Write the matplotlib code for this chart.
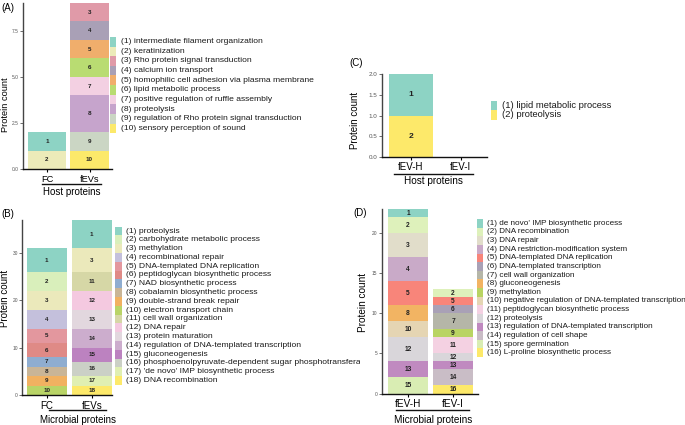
import matplotlib
matplotlib.use("Agg")
import matplotlib.pyplot as plt
from matplotlib.patches import Rectangle
from matplotlib.lines import Line2D
from matplotlib.transforms import Bbox, TransformedBbox

plt.rcParams['font.family'] = ['Liberation Sans', 'DejaVu Sans']

W, H = 685, 425

# ---- data -------------------------------------------------------------
a_cats = ['FC', 'fEVs']
a_terms = ['intermediate filament organization', 'keratinization',
           'Rho protein signal transduction', 'calcium ion transport',
           'homophilic cell adhesion via plasma membrane', 'lipid metabolic process',
           'positive regulation of ruffle assembly', 'proteolysis',
           'regulation of Rho protein signal transduction', 'sensory perception of sound']
a_fc_ids = [2, 1]
a_fc_counts = [1, 1]
a_fev_ids = [10, 9, 8, 7, 6, 5, 4, 3]
a_fev_counts = [1, 1, 2, 1, 1, 1, 1, 1]
a_colors = ['#8dd3c4', '#ecebb9', '#e09aa8', '#a9a0b6', '#f0ae6c',
            '#b9dc72', '#f3d0e2', '#c6a4cc', '#cbd6c4', '#fce96a']

b_cats = ['FC', 'fEVs']
b_terms = ['proteolysis', 'carbohydrate metabolic process', 'methylation',
           'recombinational repair', 'DNA-templated DNA replication',
           'peptidoglycan biosynthetic process', 'NAD biosynthetic process',
           'cobalamin biosynthetic process', 'double-strand break repair',
           'electron transport chain', 'cell wall organization', 'DNA repair',
           'protein maturation', 'regulation of DNA-templated transcription',
           'gluconeogenesis', 'phosphoenolpyruvate-dependent sugar phosphotransferase system',
           "'de novo' IMP biosynthetic process", 'DNA recombination']
b_fc_ids = [10, 9, 8, 7, 6, 5, 4, 3, 2, 1]
b_fc_counts = [2, 2, 2, 2, 3, 3, 4, 4, 4, 5]
b_fev_ids = [18, 17, 16, 15, 14, 13, 12, 11, 3, 1]
b_fev_counts = [2, 2, 3, 3, 4, 4, 4, 4, 5, 6]
b_colors = ['#8dd3c4', '#d9efbb', '#ebe9bb', '#c4c0dc', '#e3979e', '#df8a86',
            '#8fadd0', '#c9b597', '#f1b161', '#b9d467', '#d6d7a6', '#f4c9e0',
            '#e2d7de', '#ccadcd', '#bc82c0', '#cbd0c6', '#e0efb2', '#fde96a']

c_cats = ['fEV-H', 'fEV-I']
c_terms = ['lipid metabolic process', 'proteolysis']
c_h_ids = [2, 1]
c_h_counts = [1, 1]
c_i_ids = []
c_i_counts = []
c_colors = ['#8dd3c4', '#fde96a']

d_cats = ['fEV-H', 'fEV-I']
d_terms = ["de novo' IMP biosynthetic process", 'DNA recombination', 'DNA repair',
           'DNA restriction-modification system', 'DNA-templated DNA replication',
           'DNA-templated transcription', 'cell wall organization', 'gluconeogenesis',
           'methylation', 'negative regulation of DNA-templated transcription',
           'peptidoglycan biosynthetic process', 'proteolysis',
           'regulation of DNA-templated transcription', 'regulation of cell shape',
           'spore germination', 'L-proline biosynthetic process']
d_h_ids = [15, 13, 12, 10, 8, 5, 4, 3, 2, 1]
d_h_counts = [2, 2, 3, 2, 2, 3, 3, 3, 2, 1]
d_i_ids = [16, 14, 13, 12, 11, 9, 7, 6, 5, 2]
d_i_counts = [1, 2, 1, 1, 2, 1, 2, 1, 1, 1]
d_colors = ['#8dd3c4', '#def1bb', '#e1ddca', '#c9aac8', '#f8857a', '#a9a1b6',
            '#b5b6a8', '#f2b463', '#b9d463', '#e5d5b3', '#f4d1e2', '#d9d6da',
            '#c08ac0', '#c9bdc6', '#d9edb3', '#fde96a']


def fx(x):
    return x / W


def fy(y):
    return 1 - y / H


def make_axes(fig, left, top, right, bottom):
    return fig.add_axes([fx(left), fy(bottom), (right - left) / W, (bottom - top) / H])


def stacked(ax, xpos, ids, counts, colors, width, fs):
    bottom = 0
    for i, c in zip(ids, counts):
        ax.bar(xpos, c, width=width, bottom=bottom, color=colors[i - 1], linewidth=0)
        ax.text(xpos, bottom + c / 2, str(i), ha='center', va='center',
                fontsize=fs, fontweight='bold', color='#222222')
        bottom += c


def style_axes(ax, cats, xlim, ylim, yticks, yticklabels, xfs):
    ax.set_xlim(*xlim)
    ax.set_ylim(*ylim)
    ax.set_xticks(range(len(cats)))
    ax.set_xticklabels(cats, fontsize=xfs)
    ax.set_yticks(yticks)
    ax.set_yticklabels(yticklabels, fontsize=3.5, color='#555555')
    ax.spines['top'].set_visible(False)
    ax.spines['right'].set_visible(False)
    ax.spines['left'].set_color('#444444')
    ax.spines['left'].set_linewidth(1.0)
    ax.spines['bottom'].set_color('#111111')
    ax.spines['bottom'].set_linewidth(1.0)
    ax.tick_params(axis='x', length=2.5, width=0.8, pad=1.5)
    ax.tick_params(axis='y', length=2, width=0.6, pad=1, color='#555555')
    ax.set_facecolor('none')


def legend(fig, terms, colors, x0, y0, step, sq_w, text_x, fs, clip_x=None):
    for k, (t, col) in enumerate(zip(terms, colors)):
        yc = y0 + k * step
        fig.add_artist(Rectangle((fx(x0), fy(yc + step / 2)), sq_w / W, step / H,
                                 transform=fig.transFigure, color=col, linewidth=0))
        txt = fig.text(fx(text_x), fy(yc), '(%d) %s' % (k + 1, t), fontsize=fs,
                       va='center', ha='left', color='#1a1a1a')
        if clip_x is not None:
            txt.set_clip_box(TransformedBbox(Bbox([[0, 0], [fx(clip_x), 1]]),
                                             fig.transFigure))
            txt.set_clip_on(True)


def group_label(fig, text, x1, x2, yline, ytext, fs):
    fig.add_artist(Line2D([fx(x1), fx(x2)], [fy(yline), fy(yline)],
                          transform=fig.transFigure, color='#111111', linewidth=1.0))
    fig.text(fx((x1 + x2) / 2), fy(ytext), text, fontsize=fs, ha='center', va='center')


fig = plt.figure(figsize=(W / 100, H / 100), dpi=100)

# ---- panel A ----
ax = make_axes(fig, 22.7, 3, 111.7, 169)
stacked(ax, 0, a_fc_ids, a_fc_counts, a_colors, 0.9, 4.5)
stacked(ax, 1, a_fev_ids, a_fev_counts, a_colors, 0.9, 4.5)
style_axes(ax, a_cats, (-0.57, 1.52), (0, 9), [0, 2.5, 5, 7.5],
           ['0.0', '2.5', '5.0', '7.5'], 6.7)
fig.text(fx(5.3), fy(104.5), 'Protein count', rotation=90, fontsize=6.7, ha='center', va='center')
group_label(fig, 'Host proteins', 41.7, 101, 184.3, 191.7, 7)
legend(fig, a_terms, a_colors, 110, 41.7, 9.63, 6.3, 121, 6.1)
fig.text(fx(1), fy(8), '(A)', fontsize=7, ha='left', va='center')

# ---- panel B ----
ax = make_axes(fig, 22, 220, 112, 395)
stacked(ax, 0, b_fc_ids, b_fc_counts, b_colors, 0.89, 4.5)
stacked(ax, 1, b_fev_ids, b_fev_counts, b_colors, 0.89, 4.5)
style_axes(ax, b_cats, (-0.548, 1.448), (0, 37), [0, 10, 20, 30],
           ['0', '10', '20', '30'], 7)
fig.text(fx(5), fy(298.5), 'Protein count', rotation=90, fontsize=7, ha='center', va='center')
group_label(fig, 'Microbial proteins', 49, 106, 410, 420, 7)
legend(fig, b_terms, b_colors, 115, 231, 8.8, 6.7, 126, 6.1, clip_x=360)
fig.text(fx(1), fy(214), '(B)', fontsize=7, ha='left', va='center')

# ---- panel C ----
ax = make_axes(fig, 381.7, 74.3, 486.7, 156.7)
stacked(ax, 0, c_h_ids, c_h_counts, c_colors, 0.87, 6)
stacked(ax, 1, c_i_ids, c_i_counts, c_colors, 0.87, 6)
style_axes(ax, c_cats, (-0.59, 1.52), (0, 2), [0, 0.5, 1, 1.5, 2],
           ['0.0', '0.5', '1.0', '1.5', '2.0'], 7)
ax.tick_params(axis='y', labelsize=4.5)
fig.text(fx(355), fy(120), 'Protein count', rotation=90, fontsize=7, ha='center', va='center')
group_label(fig, 'Host proteins', 394, 472.7, 174, 181, 7.2)
legend(fig, c_terms, c_colors, 490.7, 105.7, 9.3, 6.6, 501.7, 6.75)
fig.text(fx(349), fy(63), '(C)', fontsize=7, ha='left', va='center')

# ---- panel D ----
ax = make_axes(fig, 381.7, 209.3, 478.3, 393.5)
stacked(ax, 0, d_h_ids, d_h_counts, d_colors, 0.9, 4.8)
stacked(ax, 1, d_i_ids, d_i_counts, d_colors, 0.9, 4.8)
style_axes(ax, d_cats, (-0.584, 1.56), (0, 23), [0, 5, 10, 15, 20],
           ['0', '5', '10', '15', '20'], 7.2)
fig.text(fx(363.3), fy(302.5), 'Protein count', rotation=90, fontsize=7.2, ha='center', va='center')
group_label(fig, 'Microbial proteins', 396, 469.3, 410, 420, 7.2)
legend(fig, d_terms, d_colors, 476.7, 223.3, 8.63, 6.3, 486.7, 5.85)
fig.text(fx(353), fy(212.7), '(D)', fontsize=7, ha='left', va='center')

fig.savefig('out.png', dpi=100)
